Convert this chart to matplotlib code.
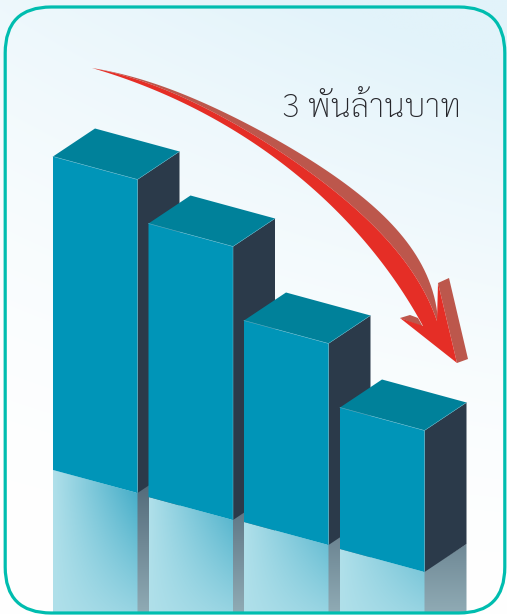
import numpy as np
import matplotlib
matplotlib.use("Agg")
import matplotlib.pyplot as plt
from matplotlib.patches import Polygon, FancyBboxPatch
from matplotlib.colors import to_rgb

# --- data (px-scale values)
bar_left = [53, 148.5, 244, 340]
bar_base = [470, 497, 522, 549]
bar_height = [313.5, 273.5, 201.5, 141.5]
label_text = "3 พันล้านบาท"

# --- styling
W, H = 507, 615
BAR_W, SLOPE = 84.5, 23
DEPTH_X, DEPTH_Y = 42, 28
FLOOR = 613
C_FRONT, C_TOP, C_SIDE = "#0095B8", "#00819A", "#2B3A4A"
C_EDGE = "#5FB5CA"
C_RED, C_BROWN = "#E52E26", "#BC574C"

fig = plt.figure(figsize=(W / 100, H / 100), dpi=100)
ax = fig.add_axes([0, 0, 1, 1])

# background wash
yy, xx = np.mgrid[0:1:300j, 0:1:250j]
t = np.clip((1 - yy) ** 1.9 * (0.6 + 0.4 * xx) + 0.22 * xx * (1 - yy), 0, 1)
c0, c1 = np.array(to_rgb("#FFFFFF")), np.array(to_rgb("#E2F3FA"))
bg = c0 + t[..., None] * (c1 - c0)
ax.imshow(bg, extent=[0, W, H, 0], aspect="auto", interpolation="bilinear", zorder=0)


def gradient_patch(poly_pts, rgb_image, extent, z):
    patch = Polygon(poly_pts, closed=True, fc="none", ec="none", zorder=z)
    ax.add_patch(patch)
    im = ax.imshow(rgb_image, extent=extent, aspect="auto",
                   interpolation="bilinear", zorder=z)
    im.set_clip_path(patch)


for i, (x, base, h) in enumerate(zip(bar_left, bar_base, bar_height)):
    z = 2 + i
    xr = x + BAR_W
    top = base - h
    # reflection of the side face (starts under the front reflection to avoid a seam)
    ys = np.linspace(base - 40, FLOOR, 120)[:, None, None]
    ca, cb = np.array(to_rgb("#566E7D")), np.array(to_rgb("#90ABB5"))
    img = ca + (ys - 490) / (614 - 490) * (cb - ca)
    gradient_patch([(xr - 2, base + SLOPE), (xr + DEPTH_X, base + SLOPE - DEPTH_Y),
                    (xr + DEPTH_X, FLOOR), (xr - 2, FLOOR)],
                   np.clip(img, 0, 1), [xr - 2, xr + DEPTH_X, FLOOR, base - 40], z)
    # reflection of the front face
    gy, gx = np.mgrid[base:FLOOR:160j, 0:1:100j]
    tt = np.clip(gx * np.clip((650 - gy) / 160, 0, 1), 0, 1)[..., None]
    ca, cb = np.array(to_rgb("#B0E0EA")), np.array(to_rgb("#45ADC8"))
    gradient_patch([(x, base), (xr, base + SLOPE), (xr, FLOOR), (x, FLOOR)],
                   ca + tt * (cb - ca), [x, xr, FLOOR, base], z)
    # faces of the block
    ax.add_patch(Polygon([(xr, top + SLOPE), (xr + DEPTH_X, top + SLOPE - DEPTH_Y),
                          (xr + DEPTH_X, base + SLOPE - DEPTH_Y), (xr, base + SLOPE)],
                         fc=C_SIDE, ec="none", zorder=z))
    ax.add_patch(Polygon([(x, top), (x + DEPTH_X, top - DEPTH_Y),
                          (xr + DEPTH_X, top + SLOPE - DEPTH_Y), (xr, top + SLOPE)],
                         fc=C_TOP, ec="none", zorder=z))
    ax.add_patch(Polygon([(x, top), (xr, top + SLOPE), (xr, base + SLOPE), (x, base)],
                         fc=C_FRONT, ec="none", zorder=z))
    ax.plot([x, xr, xr], [top, top + SLOPE, base + SLOPE], color=C_EDGE, lw=0.4, zorder=z)
    ax.plot([xr, xr + DEPTH_X], [top + SLOPE, top + SLOPE - DEPTH_Y],
            color=C_EDGE, lw=0.3, zorder=z)


# arrow
def smooth(points, n=80, deg=4):
    p = np.array(points, float)
    s = np.r_[0, np.cumsum(np.hypot(*np.diff(p, axis=0).T))]
    s /= s[-1]
    u = np.linspace(0, 1, n)
    w = np.ones(len(p))
    w[0] = w[-1] = 20
    return np.c_[np.polyval(np.polyfit(s, p[:, 0], deg, w=w), u),
                 np.polyval(np.polyfit(s, p[:, 1], deg, w=w), u)]


edge_low = [(92, 68), (167, 95), (200, 112), (250, 140), (325, 200), (380, 260), (423, 326)]
edge_mid = [(92, 68), (167, 91), (200, 106), (250, 131), (343, 200), (405, 260), (437, 321)]
edge_up = [(92, 68), (167, 88), (200, 102), (250, 124), (325, 170), (365, 200), (420, 260), (438, 320)]
L, M, U = smooth(edge_low), smooth(edge_mid), smooth(edge_up)

Z = 10
ax.add_patch(Polygon(np.r_[U, M[::-1]], fc=C_BROWN, ec="none", zorder=Z))
ax.add_patch(Polygon([(438, 283), (449, 278), (468, 359), (457, 363)], fc=C_BROWN, ec="none", zorder=Z))
ax.add_patch(Polygon([(400, 318), (410, 315), (418, 318), (423, 327)], fc=C_BROWN, ec="none", zorder=Z))
ax.add_patch(Polygon(np.r_[M, [(438, 283), (457, 363), (400, 318)], L[::-1]],
                     fc=C_RED, ec="none", zorder=Z))

# frame
ax.add_patch(FancyBboxPatch((5.2, 7), 499.6, 606, boxstyle="round,pad=0,rounding_size=46",
                            fc="none", ec="#00BDAF", lw=2.3, zorder=20))

ax.text(281.5, 117, label_text, fontsize=23.5, color="#26262B", ha="left", va="baseline",
        family=["Sarabun", "Noto Sans Thai Looped", "DejaVu Sans"], fontweight="light", zorder=21)

ax.set_xlim(0, W)
ax.set_ylim(H, 0)
ax.axis("off")
fig.savefig("out.png", dpi=100)
